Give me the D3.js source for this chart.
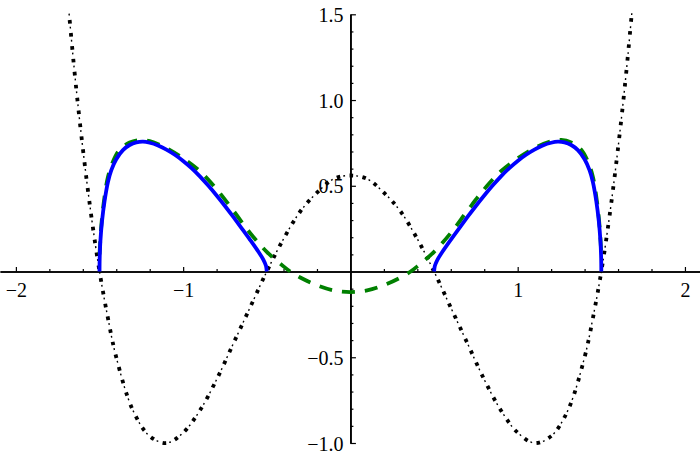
<!DOCTYPE html>
<html>
<head>
<meta charset="utf-8">
<script src="https://cdn.jsdelivr.net/npm/d3@7"></script>
<style>
  body { margin: 0; background: #fff; }
  svg { display: block; }
</style>
</head>
<body>
<svg id="chart" width="700" height="459"></svg>
<script>
// tick values and labels
var xMajor = [-2, -1, 1, 2]
var xMajorLabels = ["\u22122", "\u22121", "1", "2"]
var xMinor = [-1.8, -1.6, -1.4, -1.2, -0.8, -0.6, -0.4, -0.2, 0.2, 0.4, 0.6, 0.8, 1.2, 1.4, 1.6, 1.8]
var yMajor = [-1, -0.5, 0.5, 1, 1.5]
var yMajorLabels = ["\u22121.0", "\u22120.5", "0.5", "1.0", "1.5"]
var yMinor = [-0.9, -0.8, -0.7, -0.6, -0.4, -0.3, -0.2, -0.1, 0.1, 0.2, 0.3, 0.4, 0.6, 0.7, 0.8, 0.9, 1.1, 1.2, 1.3, 1.4]

// black dot-dashed curve
var dotX = [-1.72, -1.65, -1.6, -1.55, -1.5, -1.45, -1.4, -1.3, -1.2, -1.1, -1.0, -0.9, -0.8, -0.7, -0.6, -0.5, -0.4, -0.3, -0.2, -0.1, 0,
            0.1, 0.2, 0.3, 0.4, 0.5, 0.6, 0.7, 0.8, 0.9, 1.0, 1.1, 1.2, 1.3, 1.4, 1.45, 1.5, 1.55, 1.6, 1.65, 1.72]
var dotY = [1.92, 1.17, 0.72, 0.33, 0, -0.27, -0.50, -0.81, -0.96, -1.0, -0.94, -0.81, -0.63, -0.42, -0.21, 0, 0.19, 0.35, 0.46, 0.54, 0.56,
            0.54, 0.46, 0.35, 0.19, 0, -0.21, -0.42, -0.63, -0.81, -0.94, -1.0, -0.96, -0.81, -0.50, -0.27, 0, 0.33, 0.72, 1.17, 1.92]

// green dashed curve
var greenX = [-1.5, -1.49, -1.475, -1.45, -1.42, -1.38, -1.32, -1.26, -1.2, -1.1, -1.0, -0.9, -0.8, -0.7, -0.6, -0.5, -0.4, -0.36, -0.3, -0.2, -0.1, 0,
              0.1, 0.2, 0.3, 0.36, 0.4, 0.5, 0.6, 0.7, 0.8, 0.9, 1.0, 1.1, 1.2, 1.26, 1.32, 1.38, 1.42, 1.45, 1.475, 1.49, 1.5]
var greenY = [0.1, 0.26, 0.40, 0.55, 0.64, 0.71, 0.752, 0.767, 0.76, 0.72, 0.66, 0.585, 0.48, 0.355, 0.225, 0.115, 0.03, 0, -0.035, -0.08, -0.11, -0.12,
              -0.11, -0.08, -0.035, 0, 0.03, 0.115, 0.225, 0.355, 0.48, 0.585, 0.66, 0.72, 0.76, 0.767, 0.752, 0.71, 0.64, 0.55, 0.40, 0.26, 0.1]

// blue lobes (traced from inner root to outer root)
var blueRightX = [0.5, 0.505, 0.52, 0.55, 0.6, 0.65, 0.7, 0.75, 0.8, 0.85, 0.9, 0.95, 1.0, 1.05, 1.1, 1.15, 1.2, 1.24, 1.28, 1.32, 1.36, 1.4, 1.43, 1.45, 1.47, 1.485, 1.495, 1.499, 1.5]
var blueRightY = [0, 0.033, 0.068, 0.115, 0.185, 0.252, 0.318, 0.382, 0.443, 0.501, 0.555, 0.603, 0.645, 0.681, 0.711, 0.735, 0.751, 0.757, 0.753, 0.738, 0.708, 0.655, 0.59, 0.52, 0.41, 0.295, 0.175, 0.078, 0]
var blueLeftX = [-0.5, -0.505, -0.52, -0.55, -0.6, -0.65, -0.7, -0.75, -0.8, -0.85, -0.9, -0.95, -1.0, -1.05, -1.1, -1.15, -1.2, -1.24, -1.28, -1.32, -1.36, -1.4, -1.43, -1.45, -1.47, -1.485, -1.495, -1.499, -1.5]
var blueLeftY = [0, 0.033, 0.068, 0.115, 0.185, 0.252, 0.318, 0.382, 0.443, 0.501, 0.555, 0.603, 0.645, 0.681, 0.711, 0.735, 0.751, 0.757, 0.753, 0.738, 0.708, 0.655, 0.59, 0.52, 0.41, 0.295, 0.175, 0.078, 0]

var svg = d3.select("#chart")
var width = 700, height = 459
var labelFont = "'Liberation Serif', 'Times New Roman', Times, serif"

var x = d3.scaleLinear().domain([-2.095, 2.09]).range([0, width])
var y = d3.scaleLinear().domain([-1, 1.5]).range([443, 14.3])

// axes
var xAxisG = svg.append("g").attr("transform", "translate(0," + y(0) + ")")
xAxisG.call(d3.axisBottom(x).tickValues(xMinor).tickSize(-2.5).tickSizeOuter(0).tickFormat(""))
var xMajorG = xAxisG.append("g").call(d3.axisBottom(x).tickValues(xMajor).tickSize(-4.5).tickSizeOuter(0).tickPadding(11)
    .tickFormat(function(d, i) { return xMajorLabels[i] }))

var yAxisG = svg.append("g").attr("transform", "translate(" + x(0) + ",0)")
yAxisG.call(d3.axisLeft(y).tickValues(yMinor).tickSize(-3).tickSizeOuter(0).tickFormat(""))
var yMajorG = yAxisG.append("g").call(d3.axisLeft(y).tickValues(yMajor).tickSize(-5.5).tickSizeOuter(0).tickPadding(7)
    .tickFormat(function(d, i) { return yMajorLabels[i] }))

svg.selectAll(".domain").attr("stroke", "#000").attr("stroke-width", 1.6)
svg.selectAll(".tick line").attr("stroke", "#000").attr("stroke-width", 1.2)
svg.selectAll(".tick text")
    .attr("font-family", labelFont).attr("font-size", 20).attr("fill", "#000")
xMajorG.attr("font-family", labelFont).attr("font-size", 20)
yMajorG.attr("font-family", labelFont).attr("font-size", 20)
xMajorG.selectAll(".tick text").attr("dy", "0.71em")
yMajorG.selectAll(".tick text").attr("dy", "0.35em")

// clip
svg.append("clipPath").attr("id", "clip")
  .append("rect").attr("x", 0).attr("y", 12).attr("width", width).attr("height", height - 12)

var plot = svg.append("g").attr("clip-path", "url(#clip)")

var line = d3.line()
    .x(function(d) { return x(d[0]) })
    .y(function(d) { return y(d[1]) })
    .curve(d3.curveCatmullRom.alpha(0.5))

var dotPts = d3.zip(dotX, dotY)
plot.append("path").datum(dotPts)
    .attr("d", line).attr("fill", "none").attr("stroke", "#000")
    .attr("stroke-width", 3.8).attr("stroke-dasharray", "3.6,9.4")
plot.append("path").datum(dotPts)
    .attr("d", line).attr("fill", "none").attr("stroke", "#000")
    .attr("stroke-width", 1.4).attr("stroke-dasharray", "1.8,11.2").attr("stroke-dashoffset", -6.7)

plot.append("path").datum(d3.zip(greenX, greenY))
    .attr("d", line).attr("fill", "none").attr("stroke", "#008000")
    .attr("stroke-width", 3.8).attr("stroke-dasharray", "13,10")

plot.selectAll(".blue").data([d3.zip(blueLeftX, blueLeftY), d3.zip(blueRightX, blueRightY)])
  .enter().append("path")
    .attr("class", "blue")
    .attr("d", line).attr("fill", "none").attr("stroke", "#0000ff")
    .attr("stroke-width", 3.8).attr("stroke-linejoin", "round")
</script>
</body>
</html>
